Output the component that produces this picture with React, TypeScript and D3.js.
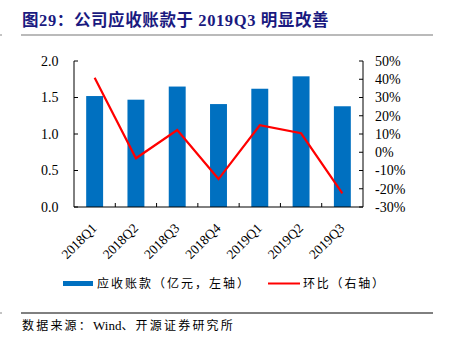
import React from "react";
import * as d3 from "d3";

const categories = ["2018Q1", "2018Q2", "2018Q3", "2018Q4", "2019Q1", "2019Q2", "2019Q3"];
const receivables = [1.52, 1.47, 1.65, 1.41, 1.62, 1.79, 1.38];
const qoq = [40.8, -3.3, 12.2, -14.7, 14.8, 10.4, -22.5];
const leftTicks = [0, 0.5, 1.0, 1.5, 2.0];
const rightTicks = [-30, -20, -10, 0, 10, 20, 30, 40, 50];

const W = 449;
const H = 348;
const left = 74;
const right = 363;
const top = 61;
const bottom = 207;
const serif = "'Liberation Serif', 'Times New Roman', serif";
const cjk = "'Liberation Serif', 'Noto Sans CJK SC', serif";

export default function App() {
  const x = d3.scaleBand<string>().domain(categories).range([left, right]);
  const yL = d3.scaleLinear().domain([0, 2]).range([bottom, top]);
  const yR = d3.scaleLinear().domain([-30, 50]).range([bottom, top]);
  const bw = x.bandwidth() * 0.41;
  const line = d3
    .line<number>()
    .x((_, i) => (x(categories[i]) as number) + x.bandwidth() / 2)
    .y((d) => yR(d));

  return (
    <svg
      width={W}
      height={H}
      style={{ position: "absolute", left: 0, top: 0, background: "#fff" }}
    >
      <text x={22} y={26} fontFamily={cjk} fontWeight="bold" fontSize={16.5} letterSpacing={0.6} fill="#1a1a80">
        图29：公司应收账款于 2019Q3 明显改善
      </text>
      <line x1={21} x2={433} y1={35} y2={35} stroke="#777" strokeWidth={1.2} />
      <line x1={0} x2={2} y1={35} y2={35} stroke="#888" strokeWidth={1} />

      {receivables.map((v, i) => (
        <rect
          key={i}
          x={(x(categories[i]) as number) + (x.bandwidth() - bw) / 2}
          y={yL(v)}
          width={bw}
          height={bottom - yL(v)}
          fill="#0070C0"
        />
      ))}

      <path d={line(qoq) || ""} fill="none" stroke="#FF0000" strokeWidth={2.2} />

      {/* axes */}
      <line x1={left} x2={left} y1={top} y2={bottom} stroke="#000" />
      <line x1={right} x2={right} y1={top} y2={bottom} stroke="#000" />
      <line x1={left} x2={right} y1={bottom} y2={bottom} stroke="#000" />
      {leftTicks.map((t) => (
        <g key={t}>
          <line x1={left} x2={left + 4} y1={yL(t)} y2={yL(t)} stroke="#000" />
          <text
            x={58.5}
            y={yL(t)}
            dy="0.35em"
            textAnchor="end"
            fontFamily={serif}
            fontSize={14}
            fill="#000"
          >
            {t.toFixed(1)}
          </text>
        </g>
      ))}
      {rightTicks.map((t) => (
        <g key={t}>
          <line x1={right - 4} x2={right} y1={yR(t)} y2={yR(t)} stroke="#000" />
          <text
            x={375}
            y={yR(t)}
            dy="0.35em"
            textAnchor="start"
            fontFamily={serif}
            fontSize={14}
            fill="#000"
          >
            {t}%
          </text>
        </g>
      ))}
      {categories.map((c, i) =>
        i > 0 ? (
          <line
            key={"t" + c}
            x1={x(c) as number}
            x2={x(c) as number}
            y1={bottom}
            y2={bottom - 4}
            stroke="#000"
          />
        ) : null
      )}
      {categories.map((c) => {
        const cx = (x(c) as number) + x.bandwidth() / 2 + 3;
        const cy = bottom + 22;
        return (
          <text
            key={c}
            x={cx}
            y={cy}
            textAnchor="end"
            transform={`rotate(-45 ${cx} ${cy})`}
            fontFamily={serif}
            fontSize={13.5}
            fill="#000"
          >
            {c}
          </text>
        );
      })}

      {/* legend */}
      <rect x={63} y={281} width={30} height={5} fill="#0070C0" />
      <text x={97} y={288} fontFamily={cjk} fontSize={12} letterSpacing={2} fill="#000">
        应收账款（亿元，左轴）
      </text>
      <line x1={268} x2={300} y1={283.5} y2={283.5} stroke="#FF0000" strokeWidth={2} />
      <text x={303} y={288} fontFamily={cjk} fontSize={12} letterSpacing={1.8} fill="#000">
        环比（右轴）
      </text>

      <line x1={21} x2={433} y1={313} y2={313} stroke="#000" strokeWidth={1} />
      <line x1={0} x2={2} y1={313} y2={313} stroke="#888" strokeWidth={1} />
      <text x={22} y={330} fontFamily={cjk} fontSize={12} fill="#000">
        <tspan letterSpacing={2.2}>数据来源：</tspan>
        <tspan fontSize={13}>Wind</tspan>
        <tspan letterSpacing={2.2}>、开源证券研究所</tspan>
      </text>
    </svg>
  );
}
